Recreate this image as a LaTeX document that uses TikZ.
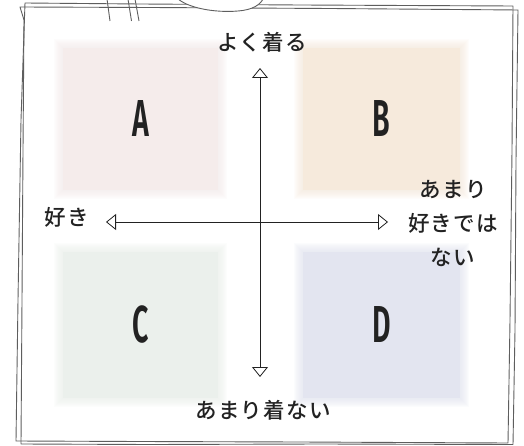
\documentclass[tikz,border=0pt]{standalone}
\usepackage{fontspec}
\usetikzlibrary{arrows.meta}
\newfontfamily\jp[LetterSpace=6]{Noto Sans CJK JP Medium}
\newfontfamily\letterfont{Fira Sans SemiBold}
\definecolor{framegray}{HTML}{5E5E5E}
\definecolor{inkc}{HTML}{222222}
\definecolor{qa}{HTML}{F5ECEB}
\definecolor{qb}{HTML}{F6EADC}
\definecolor{qc}{HTML}{EBF0EC}
\definecolor{qd}{HTML}{E3E5F0}
\newcommand{\softbox}[5]{%
  \foreach \r in {1,...,9}{\fill[#1,opacity=0.11] ({#2-\r},{#3-\r}) rectangle ({#4+\r},{#5+\r});}%
}
\tikzset{
  framestroke/.style={draw=framegray,line width=0.9pt,line join=round},
  quadbox/.style={fill=#1,minimum width=155pt,minimum height=144pt,inner sep=0pt,text=inkc,font=\letterfont\fontsize{52}{52}\selectfont},
  lab/.style={text=inkc,font=\jp\fontsize{21.5}{34}\selectfont,inner sep=0pt},
  axis/.style={draw=inkc,line width=0.8pt,{Triangle[open,length=10pt,width=16pt]}-{Triangle[open,length=10pt,width=16pt]}}
}
\begin{document}
\begin{tikzpicture}[x=1pt,y=-1pt]
\useasboundingbox (0,0) rectangle (524,446);
\fill[white] (0,0) rectangle (524,446);
% hand-drawn double frame
\draw[framestroke] (25,3) -- (140,4) -- (300,5) -- (513,6) -- (512,150) -- (510,320) -- (508,443) -- (300,442) -- (140,441.5) -- (16,441) -- (18,300) -- (21,120) -- cycle;
\draw[framestroke] (20,7) -- (150,7.5) -- (330,8.5) -- (518,10) -- (516,160) -- (515,330) -- (513,444.5) -- (320,444) -- (150,444.5) -- (21,444) -- (22,300) -- (23,150) -- (24,20) -- cycle;
% hanger strings and tag
\draw[framestroke] (107,-1) -- (110,21);
\draw[framestroke] (128,-1) -- (131.5,21);
\draw[framestroke] (135,-1) -- (139,21);
\draw[framestroke,fill=white] (176,-3) .. controls (186,8) and (215,13) .. (238,11) .. controls (252,10) and (261,5) .. (264,-3);
% soft quadrant squares
\softbox{qa}{63}{48}{218}{190}
\softbox{qb}{303}{48}{460}{190}
\softbox{qc}{63}{252}{218}{398}
\softbox{qd}{303}{252}{460}{398}
\node[quadbox=qa,minimum width=155pt,minimum height=142pt] (A) at (140.5,119) {\scalebox{0.55}[1]{A}};
\node[quadbox=qb,minimum width=157pt,minimum height=142pt] (B) at (381.5,119) {\scalebox{0.55}[1]{B}};
\node[quadbox=qc,minimum width=155pt,minimum height=146pt] (C) at (140.5,325) {\scalebox{0.55}[1]{C}};
\node[quadbox=qd,minimum width=157pt,minimum height=146pt] (D) at (381.5,325) {\scalebox{0.55}[1]{D}};
% axes
\coordinate (top) at (260,68);
\coordinate (bottom) at (260,377);
\coordinate (left) at (106,222);
\coordinate (right) at (388,222);
\draw[axis] (top) -- (bottom);
\draw[axis] (left) -- (right);
% labels
\node[lab] (up) at (262,42) {よく着る};
\node[lab] (down) at (263,410) {あまり着ない};
\node[lab] (like) at (67,217) {好き};
\node[lab,align=center] (notlike) at (453,224) {あまり\\好きでは\\ない};
\end{tikzpicture}
\end{document}
